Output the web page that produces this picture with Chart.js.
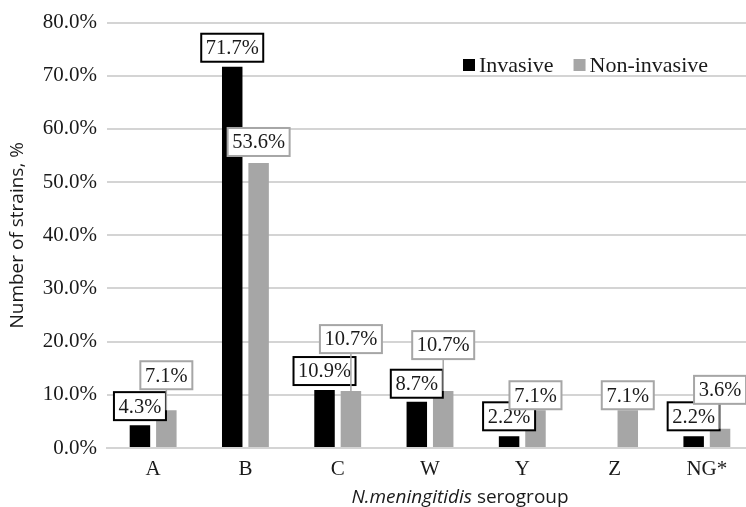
<!DOCTYPE html>
<html>
<head>
<meta charset="utf-8">
<title>N. meningitidis serogroups</title>
<style>
  html, body { margin: 0; padding: 0; background: #fff; overflow: hidden; }
  #wrap { position: relative; width: 756px; height: 507px; }
</style>
<script src="https://cdn.jsdelivr.net/npm/chart.js@4/dist/chart.umd.min.js"></script>
</head>
<body>
<div id="wrap"><canvas id="chart" width="756" height="507"></canvas></div>
<script>
// Share of strains per serogroup, in percent
const serogroups = ['A', 'B', 'C', 'W', 'Y', 'Z', 'NG*'];
const invasive = [4.3, 71.7, 10.9, 8.7, 2.2, null, 2.2];
const nonInvasive = [7.1, 53.6, 10.7, 10.7, 7.1, 7.1, 3.6];
const yTickValues = [0, 10, 20, 30, 40, 50, 60, 70, 80];

// How far (px) each value box sits above its bar
const invasiveLabelLift = [5, 5, 5, 4, 6, 0, 6];
const nonInvasiveLabelLift = [21, 7, 38, 32, 1, 1, 25];

const SERIF = '"Liberation Serif", "Times New Roman", serif';
const SANS = '"Open Sans", "Noto Sans", sans-serif';
const BLACK = '#000000';
const GREY = '#a6a6a6';

// Boxed value labels above each bar, with a leader line when lifted well clear
const valueBoxes = {
  id: 'valueBoxes',
  afterDatasetsDraw(chart, args, opts) {
    const ctx = chart.ctx;
    ctx.save();
    ctx.font = '20.5px ' + SERIF;
    ctx.textAlign = 'center';
    ctx.textBaseline = 'middle';
    chart.data.datasets.forEach((ds, di) => {
      const meta = chart.getDatasetMeta(di);
      const lift = opts.lifts[di];
      const color = opts.borderColors[di];
      const lw = opts.borderWidths[di];
      meta.data.forEach((bar, i) => {
        const v = ds.data[i];
        if (v == null) return;
        const text = v.toFixed(1) + '%';
        const w = Math.round(ctx.measureText(text).width + 9);
        const h = 28;
        const cx = bar.x;
        const bottom = bar.y - lift[i];
        const top = bottom - h;
        if (lift[i] > 8) {
          ctx.beginPath();
          ctx.moveTo(cx, bottom);
          ctx.lineTo(cx, bar.y);
          ctx.lineWidth = 1.5;
          ctx.strokeStyle = color;
          ctx.stroke();
        }
        ctx.fillStyle = '#ffffff';
        ctx.fillRect(cx - w / 2, top, w, h);
        ctx.lineWidth = lw;
        ctx.strokeStyle = color;
        ctx.strokeRect(cx - w / 2, top, w, h);
        ctx.fillStyle = '#1a1a1a';
        ctx.fillText(text, cx, top + h / 2 + 1);
      });
    });
    ctx.restore();
  }
};

// Legend drawn inside the plot, upper right
const insideLegend = {
  id: 'insideLegend',
  afterDraw(chart, args, opts) {
    const ctx = chart.ctx;
    ctx.save();
    ctx.font = '22px ' + SERIF;
    ctx.textBaseline = 'middle';
    ctx.textAlign = 'left';
    let x = opts.x;
    const y = opts.y;
    chart.data.datasets.forEach((ds) => {
      ctx.fillStyle = ds.backgroundColor;
      ctx.fillRect(x, y - 6, 12, 12);
      x += 16;
      ctx.fillStyle = '#1a1a1a';
      ctx.fillText(ds.label, x, y + 1);
      x += ctx.measureText(ds.label).width + 20;
    });
    ctx.restore();
  }
};

// X axis title: italic genus name followed by upright word
const xTitle = {
  id: 'xTitle',
  afterDraw(chart, args, opts) {
    const ctx = chart.ctx;
    ctx.save();
    ctx.textBaseline = 'middle';
    ctx.textAlign = 'left';
    ctx.fillStyle = '#1a1a1a';
    const italicFont = 'italic 19px ' + SANS;
    const plainFont = '19px ' + SANS;
    ctx.font = italicFont;
    const w1 = ctx.measureText(opts.italic).width;
    ctx.font = plainFont;
    const w2 = ctx.measureText(opts.plain).width;
    let x = opts.centerX - (w1 + w2) / 2;
    ctx.font = italicFont;
    ctx.fillText(opts.italic, x, opts.y);
    ctx.font = plainFont;
    ctx.fillText(opts.plain, x + w1, opts.y);
    ctx.restore();
  }
};

new Chart(document.getElementById('chart'), {
  type: 'bar',
  data: {
    labels: serogroups,
    datasets: [
      { label: 'Invasive', data: invasive, backgroundColor: BLACK },
      { label: 'Non-invasive', data: nonInvasive, backgroundColor: GREY }
    ]
  },
  options: {
    responsive: false,
    animation: false,
    devicePixelRatio: 1,
    layout: { padding: { top: 20, right: 3, bottom: 0, left: 0 } },
    datasets: {
      bar: { categoryPercentage: 0.572, barPercentage: 0.776 }
    },
    scales: {
      x: {
        grid: { display: false, drawTicks: false },
        border: { display: true, color: '#d4d4d4', width: 2 },
        ticks: { color: '#1a1a1a', font: { family: SERIF, size: 21 }, padding: 9 },
        afterFit(scale) { scale.height = 59; }
      },
      y: {
        min: 0,
        max: 80,
        afterBuildTicks(scale) { scale.ticks = yTickValues.map(v => ({ value: v })); },
        grid: { color: '#d4d4d4', lineWidth: 2, drawTicks: false },
        border: { display: false },
        ticks: {
          color: '#1a1a1a',
          font: { family: SERIF, size: 21 },
          padding: 10,
          callback: (v) => v.toFixed(1) + '%'
        },
        title: {
          display: true,
          text: 'Number of strains, %',
          color: '#1a1a1a',
          font: { family: SANS, size: 19 },
          padding: { top: 6, bottom: 0 }
        },
        afterFit(scale) { scale.width = 107; }
      }
    },
    plugins: {
      legend: { display: false },
      tooltip: { enabled: false },
      valueBoxes: {
        lifts: [invasiveLabelLift, nonInvasiveLabelLift],
        borderColors: [BLACK, GREY],
        borderWidths: [2, 2]
      },
      insideLegend: { x: 463, y: 65 },
      xTitle: { italic: 'N.meningitidis', plain: ' serogroup', centerX: 460, y: 498 }
    }
  },
  plugins: [valueBoxes, insideLegend, xTitle]
});
</script>
</body>
</html>
